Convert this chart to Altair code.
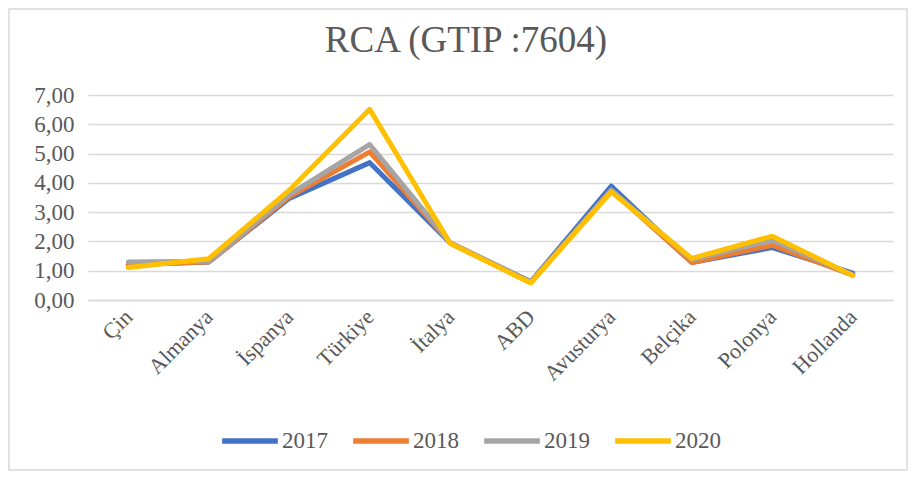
import altair as alt
import pandas as pd

countries = ["Çin", "Almanya", "İspanya", "Türkiye", "İtalya", "ABD",
             "Avusturya", "Belçika", "Polonya", "Hollanda"]
years = ["2017", "2018", "2019", "2020"]
v2017 = [1.20, 1.30, 3.47, 4.69, 1.95, 0.62, 3.89, 1.28, 1.79, 0.92]
v2018 = [1.22, 1.30, 3.52, 5.06, 1.95, 0.60, 3.75, 1.28, 1.87, 0.85]
v2019 = [1.30, 1.32, 3.60, 5.31, 1.95, 0.60, 3.75, 1.38, 2.04, 0.85]
v2020 = [1.11, 1.41, 3.75, 6.51, 1.93, 0.58, 3.69, 1.42, 2.18, 0.84]
colors = ["#4472C4", "#ED7D31", "#A5A5A5", "#FFC000"]
title_text = ["RCA (GTIP :7604)"]

rows = []
for y, vals in zip(years, [v2017, v2018, v2019, v2020]):
    for c, v in zip(countries, vals):
        rows.append({"Ülke": c, "Yıl": y, "RCA": v})
df = pd.DataFrame(rows)

FONT = "Liberation Serif"
TXT = "#595959"
W, H = 805, 205
PL, PT, PR, PB = 80, 87, 15, 176

lines = alt.Chart(df).mark_line(strokeWidth=5, strokeJoin="round", strokeCap="round").encode(
    x=alt.X("Ülke:N", sort=countries, title=None,
            scale=alt.Scale(paddingInner=0, paddingOuter=0.5),
            axis=alt.Axis(labelAngle=-45, labelAlign="right", labelBaseline="middle",
                          labelPadding=13, ticks=False, domainColor="#d9d9d9",
                          domainWidth=1.5, labelFont=FONT, labelFontSize=22,
                          labelColor=TXT, grid=False)),
    y=alt.Y("RCA:Q", title=None,
            scale=alt.Scale(domain=[0, 7], nice=False),
            axis=alt.Axis(values=[0, 1, 2, 3, 4, 5, 6, 7], domain=False, ticks=False,
                          labelExpr="replace(format(datum.value, '.2f'), '.', ',')",
                          labelPadding=14, labelFont=FONT, labelFontSize=23,
                          labelColor=TXT, gridColor="#d9d9d9", gridWidth=1.5)),
    color=alt.Color("Yıl:N", scale=alt.Scale(domain=years, range=colors), title=None,
                    legend=alt.Legend(orient="none", direction="horizontal",
                                      legendX=131, legendY=315,
                                      symbolType="stroke", symbolStrokeWidth=5.5,
                                      symbolSize=3100, labelFont=FONT, labelFontSize=23,
                                      labelColor=TXT, columnPadding=14, labelOffset=1)),
)

frame = alt.Chart(pd.DataFrame({"a": [0]})).mark_rect(
    fill=None, stroke="#d9d9d9", strokeWidth=1.5
).encode(
    x=alt.value(-PL + 1), x2=alt.value(W + 14),
    y=alt.value(-PT + 1), y2=alt.value(375),
)

title = alt.Chart(pd.DataFrame({"t": title_text})).mark_text(
    font=FONT, fontSize=37, color=TXT, align="center", baseline="alphabetic"
).encode(x=alt.value(378), y=alt.value(-43), text="t:N")

chart = alt.layer(frame, lines, title).properties(
    width=W, height=H,
    padding={"left": PL, "top": PT, "right": PR, "bottom": PB},
    autosize=alt.AutoSizeParams(type="none"),
).configure_view(stroke=None)

chart.save("out.html", embed_options={"renderer": "svg", "actions": False})
